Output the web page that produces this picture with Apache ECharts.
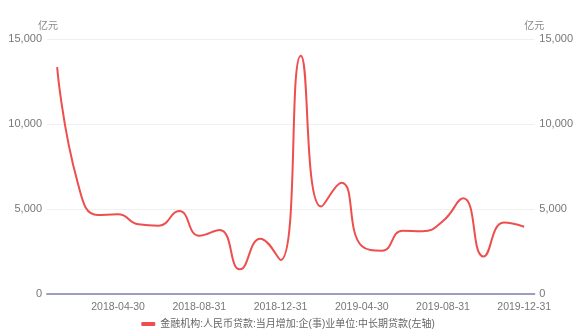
<!DOCTYPE html>
<html>
<head>
<meta charset="utf-8">
<script src="https://cdn.jsdelivr.net/npm/echarts@6/dist/echarts.min.js"></script>
<style>html,body{margin:0;padding:0;background:#fff;overflow:hidden}#c{width:576px;height:336px}</style>
</head>
<body>
<div id="c"></div>
<script>
const categories = ['2018-01-31','2018-02-28','2018-03-31','2018-04-30','2018-05-31','2018-06-30','2018-07-31','2018-08-31','2018-09-30','2018-10-31','2018-11-30','2018-12-31','2019-01-31','2019-02-28','2019-03-31','2019-04-30','2019-05-31','2019-06-30','2019-07-31','2019-08-31','2019-09-30','2019-10-31','2019-11-30','2019-12-31'];
const loans = [13350, 6600, 4650, 4690, 4100, 4020, 4880, 3430, 3765, 1450, 3255, 2000, 14020, 5140, 6550, 2820, 2550, 3725, 3690, 4290, 5630, 2200, 4200, 3960];
const seriesName = '金融机构:人民币贷款:当月增加:企(事)业单位:中长期贷款(左轴)';
const unit = '亿元';

const chart = echarts.init(document.getElementById('c'), null, {renderer: 'canvas'});
const font = 'Arial, "Noto Sans CJK SC", sans-serif';
const yCommon = {
  type: 'value', min: 0, max: 15000, interval: 5000,
  name: unit,
  nameGap: 8,
  axisLine: {show: false}, axisTick: {show: false},
  axisLabel: {color: '#777', fontSize: 11, fontFamily: font, margin: 5, formatter: v => v.toLocaleString('en-US')},
};
chart.setOption({
  animation: false,
  grid: {left: 47, right: 34, top: 39, bottom: 42, containLabel: false},
  legend: {
    bottom: 2, left: 'center', itemWidth: 14, itemHeight: 4,
    icon: 'roundRect',
    textStyle: {color: '#666', fontSize: 10, fontFamily: font},
    data: [seriesName]
  },
  xAxis: {
    type: 'category', data: categories, boundaryGap: true,
    axisLine: {lineStyle: {color: '#9b9dc2', width: 2}},
    axisTick: {show: false},
    axisLabel: {color: '#777', fontSize: 10.5, fontFamily: font, interval: (i) => i % 4 === 3, margin: 8},
    splitLine: {show: false}
  },
  yAxis: [
    Object.assign({}, yCommon, {position: 'left',
      nameTextStyle: {color: '#888', fontSize: 10, fontFamily: font, align: 'center', padding: [0, 0, 0, 2]},
      splitLine: {lineStyle: {color: '#f0f0f0'}}}),
    Object.assign({}, yCommon, {position: 'right',
      nameTextStyle: {color: '#888', fontSize: 10, fontFamily: font, align: 'center', padding: [0, 0, 0, 0]},
      splitLine: {show: false}})
  ],
  series: [{
    name: seriesName, type: 'line', data: loans, smooth: true, symbol: 'none',
    yAxisIndex: 0,
    lineStyle: {color: '#ee4e4e', width: 2},
    itemStyle: {color: '#ee4e4e'}
  }]
});
</script>
</body>
</html>
